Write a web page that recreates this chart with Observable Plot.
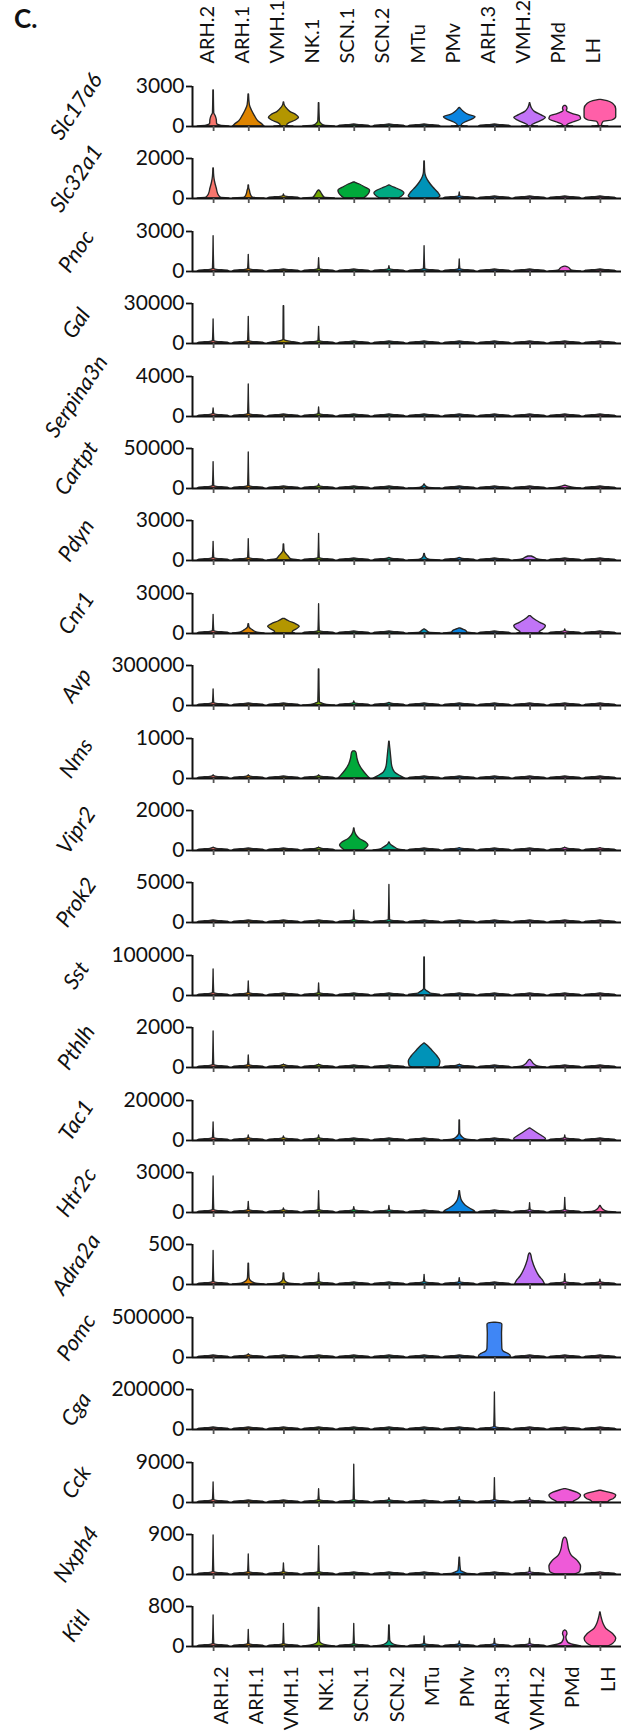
<!DOCTYPE html>
<html>
<head>
<meta charset="utf-8">
<script src="https://cdn.jsdelivr.net/npm/d3@7"></script>
<script src="https://cdn.jsdelivr.net/npm/@observablehq/plot@0.6"></script>
<style>
  body { margin: 0; background: #fff; }
  #chart { position: relative; width: 632px; height: 1735px; font-family: Lato, "Open Sans", sans-serif; color: #111; overflow: hidden; }
  #chart svg { position: absolute; left: 0; overflow: visible; background: transparent; }
  .panel-label { position: absolute; left: 14px; top: 2px; font: bold 26px Lato, sans-serif; color: #111; }
</style>
</head>
<body>
<div id="chart"><div class="panel-label">C.</div></div>
<script>
// ---------------- data ----------------
const clusters = ["ARH.2","ARH.1","VMH.1","NK.1","SCN.1","SCN.2","MTu","PMv","ARH.3","VMH.2","PMd","LH"];
const clusterColors = ["#F8766D","#DE8400","#B39600","#72A800","#00A93A","#00A982","#0093B8","#0A84E0","#3F86F5","#C174F7","#EE5AD8","#FF5FA8"];
const genes = ["Slc17a6","Slc32a1","Pnoc","Gal","Serpina3n","Cartpt","Pdyn","Cnr1","Avp","Nms","Vipr2","Prok2","Sst","Pthlh","Tac1","Htr2c","Adra2a","Pomc","Cga","Cck","Nxph4","Kitl"];
const geneTicks = [3000,2000,3000,30000,4000,50000,3000,3000,300000,1000,2000,5000,100000,2000,20000,3000,500,500000,200000,9000,900,800];
// highest value (top of the violin / spike) per gene x cluster
const spikeTop = [
  [2700,2400,1800,1750,0,0,0,1400,0,1750,1550,2000],
  [1500,650,200,400,800,650,1850,300,0,0,0,0],
  [2650,1250,150,1000,80,400,1900,900,50,120,370,150],
  [18000,20000,28000,12500,300,300,300,300,300,300,1000,300],
  [800,3200,150,900,50,50,50,100,50,100,150,100],
  [33000,45000,1500,5000,1000,1000,5000,2000,500,1500,3500,1000],
  [1400,1600,1200,2000,150,200,500,200,100,300,150,150],
  [1400,700,1100,2200,100,100,300,380,100,1300,300,150],
  [120000,10000,5000,270000,30000,20000,5000,3000,2000,2000,2000,2000],
  [80,80,30,80,680,920,30,40,20,20,20,20],
  [150,100,100,150,1100,400,80,120,50,80,150,120],
  [100,100,100,100,1500,4700,100,100,50,50,50,50],
  [65000,35000,3000,30000,1000,1000,95000,3000,1000,1000,1000,1000],
  [1800,600,150,150,30,30,1200,150,30,380,100,50],
  [9000,2500,2000,2500,300,300,500,10000,300,6000,2500,500],
  [2700,800,300,1600,400,500,100,1600,100,700,1100,500],
  [420,260,140,140,20,20,120,80,20,390,130,60],
  [5000,40000,5000,5000,5000,5000,5000,5000,435000,5000,5000,5000],
  [10000,3000,3000,3000,2000,2000,2000,2000,185000,2000,2000,2000],
  [4500,300,300,3000,8500,1000,300,1200,5500,1000,3000,2650],
  [880,450,250,640,20,20,20,380,40,150,830,50],
  [620,330,450,770,450,420,200,100,150,150,320,680]
];
// violin bodies: [gene, cluster, [[value, relative half-width], ...]]
const bodies = [
  ["Slc17a6","ARH.2",[[0,1],[60,0.45],[200,0.22],[500,0.2],[800,0.12],[1000,0.04]]],
  ["Slc17a6","ARH.1",[[0,1],[120,0.9],[400,0.6],[800,0.38],[1200,0.2],[1600,0.07]]],
  ["Slc17a6","VMH.1",[[0,0.6],[60,0.2],[250,0.35],[450,0.75],[650,0.95],[850,0.8],[1100,0.4],[1400,0.15],[1600,0.05]]],
  ["Slc17a6","NK.1",[[0,1],[60,0.35],[200,0.15],[400,0.05]]],
  ["Slc17a6","PMv",[[0,0.5],[60,0.12],[300,0.35],[550,0.85],[700,1.0],[850,0.6],[1100,0.25],[1350,0.05]]],
  ["Slc17a6","VMH.2",[[0,0.5],[60,0.12],[250,0.4],[500,0.85],[650,1.0],[850,0.7],[1100,0.3],[1400,0.1],[1650,0.03]]],
  ["Slc17a6","PMd",[[0,0.5],[60,0.12],[300,0.5],[550,1.0],[750,0.95],[950,0.45],[1100,0.15],[1200,0.1],[1300,0.14],[1450,0.12],[1550,0.03]]],
  ["Slc17a6","LH",[[0,0.5],[60,0.1],[350,0.2],[450,0.75],[700,1.0],[1300,1.0],[1700,0.8],[1900,0.45],[2000,0.05]]],
  ["Slc32a1","ARH.2",[[0,1],[50,0.45],[200,0.3],[500,0.2],[800,0.1],[1100,0.04]]],
  ["Slc32a1","ARH.1",[[0,1],[50,0.25],[200,0.13],[400,0.07],[500,0.03]]],
  ["Slc32a1","NK.1",[[0,1],[50,0.35],[200,0.2],[350,0.08],[400,0.02]]],
  ["Slc32a1","SCN.1",[[0,0.6],[80,0.75],[250,0.95],[400,1.0],[550,0.7],[700,0.35],[800,0.05]]],
  ["Slc32a1","SCN.2",[[0,0.6],[100,0.8],[250,0.95],[350,0.85],[500,0.45],[600,0.15],[650,0.03]]],
  ["Slc32a1","MTu",[[0,0.8],[100,1.0],[300,0.85],[550,0.55],[800,0.3],[1050,0.12],[1300,0.04]]],
  ["Pnoc","PMd",[[0,1],[80,0.4],[200,0.3],[300,0.2],[370,0.03]]],
  ["Gal","VMH.1",[[0,1],[600,0.8],[1200,0.45],[2000,0.15],[2800,0.03]]],
  ["Cartpt","MTu",[[0,1],[800,0.3],[2500,0.1]]],
  ["Cartpt","PMd",[[0,1],[800,0.6],[1800,0.35],[3000,0.1],[3500,0.02]]],
  ["Pdyn","VMH.1",[[0,1],[100,0.45],[300,0.3],[500,0.15],[700,0.04]]],
  ["Pdyn","MTu",[[0,1],[60,0.3],[200,0.1],[350,0.04]]],
  ["Pdyn","VMH.2",[[0,1],[80,0.5],[200,0.3],[300,0.1]]],
  ["Cnr1","ARH.1",[[0,1],[80,0.5],[250,0.25],[450,0.05]]],
  ["Cnr1","VMH.1",[[0,0.7],[100,0.55],[300,0.8],[500,1.0],[700,0.75],[900,0.35],[1100,0.05]]],
  ["Cnr1","MTu",[[0,1],[60,0.3],[200,0.15],[300,0.03]]],
  ["Cnr1","PMv",[[0,1],[60,0.5],[200,0.4],[300,0.2],[380,0.03]]],
  ["Cnr1","VMH.2",[[0,0.8],[100,0.6],[300,0.85],[550,1.0],[800,0.65],[1050,0.3],[1300,0.05]]],
  ["Avp","NK.1",[[0,1],[5000,0.5],[15000,0.2],[25000,0.05]]],
  ["Nms","SCN.1",[[0,1],[60,0.85],[200,0.55],[350,0.32],[500,0.2],[640,0.14],[680,0.05]]],
  ["Nms","SCN.2",[[0,1],[60,0.7],[150,0.35],[300,0.18],[500,0.12],[700,0.07],[850,0.03]]],
  ["Vipr2","SCN.1",[[0,0.6],[100,0.75],[250,0.9],[400,0.75],[550,0.4],[700,0.2],[900,0.06]]],
  ["Vipr2","SCN.2",[[0,1],[60,0.55],[150,0.35],[250,0.15],[350,0.04]]],
  ["Sst","MTu",[[0,1],[2000,0.95],[4500,0.4],[8000,0.28],[12000,0.12],[16000,0.03]]],
  ["Pthlh","MTu",[[0,0.75],[80,0.95],[300,1.0],[550,0.82],[850,0.48],[1100,0.18],[1200,0.02]]],
  ["Pthlh","VMH.2",[[0,1],[60,0.5],[150,0.28],[280,0.14],[380,0.03]]],
  ["Tac1","PMv",[[0,1],[600,0.4],[1500,0.2],[2500,0.08],[3500,0.03]]],
  ["Tac1","VMH.2",[[0,0.95],[800,1.0],[2000,0.8],[3500,0.5],[5000,0.22],[6000,0.03]]],
  ["Htr2c","PMv",[[0,1],[100,0.95],[300,0.65],[550,0.35],[850,0.15],[1200,0.06]]],
  ["Htr2c","LH",[[0,1],[60,0.45],[200,0.2],[400,0.06]]],
  ["Adra2a","ARH.1",[[0,1],[15,0.4],[40,0.15],[80,0.05]]],
  ["Adra2a","VMH.1",[[0,1],[15,0.3],[40,0.1],[70,0.04]]],
  ["Adra2a","VMH.2",[[0,0.95],[40,0.85],[100,0.6],[200,0.33],[300,0.15],[380,0.05]]],
  ["Pomc","ARH.3",[[0,1.0],[20000,1.0],[45000,0.85],[75000,0.55],[110000,0.47],[300000,0.45],[410000,0.47],[425000,0.4],[435000,0.05]]],
  ["Cck","PMd",[[0,0.5],[300,0.6],[800,0.85],[1500,1.0],[2200,0.75],[2700,0.35],[3000,0.05]]],
  ["Cck","LH",[[0,0.5],[300,0.55],[800,0.85],[1500,1.0],[2000,0.8],[2400,0.35],[2650,0.05]]],
  ["Nxph4","PMv",[[0,1],[20,0.45],[50,0.25],[80,0.08]]],
  ["Nxph4","PMd",[[0,0.6],[60,0.95],[180,1.0],[300,0.8],[420,0.42],[550,0.25],[700,0.17],[800,0.1],[830,0.03]]],
  ["Kitl","NK.1",[[0,1],[20,0.5],[50,0.2],[100,0.06]]],
  ["Kitl","SCN.2",[[0,1],[20,0.45],[60,0.18],[120,0.05]]],
  ["Kitl","PMd",[[0,1],[30,0.55],[80,0.18],[180,0.07],[250,0.14],[300,0.1],[320,0.02]]],
  ["Kitl","LH",[[0,0.5],[50,0.8],[150,1.0],[250,0.8],[350,0.38],[450,0.2],[550,0.1],[650,0.03]]]
];

// ---------------- layout / style ----------------
const W = 632;
const M = {left: 192, right: 11, top: 14, bottom: 18};
const panelH = 40;              // pixel height from 0 to the top tick
const firstZero = 126, rowStep = 72.4;
const halfBand = 0.45;          // max violin half width in band units
const baseShape = [[0, 1], [0.02, 0.9], [0.04, 0.2], [0.06, 0.04]]; // generic low-expression base (fractions of tick max)
const xDomain = [-0.6, clusters.length - 0.4];
const font = "Lato, 'Open Sans', sans-serif";
const chart = document.getElementById("chart");

function place(svg, top) {
  svg.style.position = "absolute";
  svg.style.left = "0px";
  svg.style.top = top + "px";
  chart.appendChild(svg);
}
const baseStyle = {fontFamily: font, background: "transparent", overflow: "visible", color: "#111"};

// header labels
place(Plot.plot({
  width: W, height: 66, marginLeft: M.left, marginRight: M.right, marginTop: 0, marginBottom: 3,
  x: {domain: xDomain, axis: null},
  style: baseStyle,
  marks: [Plot.text(clusters, {x: (d, i) => i, text: d => d, frameAnchor: "bottom", rotate: -90, textAnchor: "start", fontSize: 20, fill: "#111"})]
}), 0);

// gene rows
genes.forEach((gene, g) => {
  const T = geneTicks[g];
  const data = [];
  clusters.forEach((cl, c) => {
    const body = bodies.find(b => b[0] === gene && b[1] === cl);
    const spike = spikeTop[g][c];
    let prof;
    if (body) {
      prof = body[2].map(([y, w]) => ({y, w}));
      const last = prof[prof.length - 1].y;
      if (spike > last * 1.02) prof.push({y: spike, w: 0.015});
    } else {
      const top = Math.max(spike, 0.05 * T);
      prof = baseShape.map(([f, w]) => ({y: f * T, w})).filter(p => p.y < top);
      prof.push({y: top, w: 0});
    }
    prof.forEach(p => data.push({cluster: cl, c, y: p.y, w: p.w}));
  });
  const svg = Plot.plot({
    width: W, height: M.top + panelH + M.bottom,
    marginLeft: M.left, marginRight: M.right, marginTop: M.top, marginBottom: M.bottom,
    x: {domain: xDomain, axis: null},
    y: {domain: [0, T], axis: null},
    color: {domain: clusters, range: clusterColors},
    style: baseStyle,
    marks: [
      Plot.areaX(data, {y: "y", x1: d => d.c - d.w * halfBand, x2: d => d.c + d.w * halfBand, z: "cluster", fill: "cluster", stroke: "#262626", strokeWidth: 1.35, strokeLinejoin: "round", curve: "monotone-y"}),
      Plot.ruleY([0], {x1: xDomain[0], x2: xDomain[1], stroke: "#111", strokeWidth: 2}),
      Plot.ruleX([xDomain[0]], {y1: 0, y2: T, stroke: "#111", strokeWidth: 2}),
      Plot.axisY([0, T], {tickSize: 6, tickPadding: 2, tickFormat: d => String(d), fontSize: 21, strokeWidth: 1.8, label: null, fill: "#111"}),
      Plot.axisX(d3.range(clusters.length), {tickSize: 5, tickFormat: () => "", strokeWidth: 1.8, stroke: "#555", label: null}),
      Plot.text([gene], {frameAnchor: "left", dx: -116, rotate: -56, textAnchor: "middle", fontStyle: "italic", fontSize: 22, fill: "#111"})
    ]
  });
  place(svg, firstZero + rowStep * g - (M.top + panelH));
});

// footer labels
place(Plot.plot({
  width: W, height: 75, marginLeft: M.left, marginRight: M.right, marginTop: 6, marginBottom: 0,
  x: {domain: xDomain, axis: null},
  style: baseStyle,
  marks: [Plot.text(clusters, {x: (d, i) => i, text: d => d, frameAnchor: "top", rotate: -90, textAnchor: "end", fontSize: 20, fill: "#111"})]
}), 1660);
</script>
</body>
</html>
